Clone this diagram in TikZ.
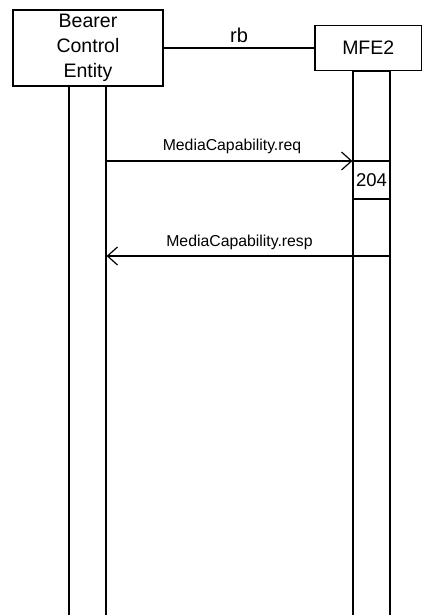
\documentclass[tikz,border=0pt]{standalone}
\usepackage{fontspec}
\setmainfont{Liberation Sans}
\usetikzlibrary{arrows.meta}
\begin{document}
\begin{tikzpicture}[x=1pt,y=-1pt,line width=1.2pt,
  entity/.style={draw,fill=white,inner sep=0pt,align=center,
    font=\fontsize{19.5}{25}\selectfont},
  life/.style={draw,fill=white,inner sep=0pt,minimum width=37pt},
  msg/.style={font=\fontsize{15.8}{18}\selectfont,anchor=base},
  tip/.style={-{Straight Barb[length=10pt,width=18pt,line width=1.2pt]}}]
\useasboundingbox (0,0) rectangle (422,615);

% lifelines
\node[life,anchor=north,minimum height=528.7pt] (bcel) at (87.5,86) {};
\node[life,anchor=north,minimum height=543.9pt] (mfel) at (371.5,70.8) {};

% entities
\node[entity,minimum width=150pt,minimum height=76pt] (bce) at (88,48)
  {Bearer\\Control\\Entity};
\node[entity,minimum width=106.5pt,minimum height=45.6pt] (mfe) at (368.25,48)
  {MFE2};

% interface between the entities
\draw (bce.east) -- (mfe.west |- bce.east);
\node[font=\fontsize{20}{24}\selectfont,anchor=base] (rb) at (239,42.5) {rb};

% message rows
\coordinate (req) at (0,161);
\coordinate (resp) at (0,256);

\draw[tip] (bcel.east |- req) -- (mfel.west |- req);
\node[msg] (reqlbl) at (232,150.5) {MediaCapability.req};

\node[draw,fill=white,inner sep=0pt,minimum width=37pt,minimum height=38pt,
  font=\fontsize{18.5}{22}\selectfont] (proc) at (371.5,180) {204};

\draw[tip] (mfel.east |- resp) -- (bcel.east |- resp);
\node[msg] (resplbl) at (239.5,246) {MediaCapability.resp};
\end{tikzpicture}
\end{document}
